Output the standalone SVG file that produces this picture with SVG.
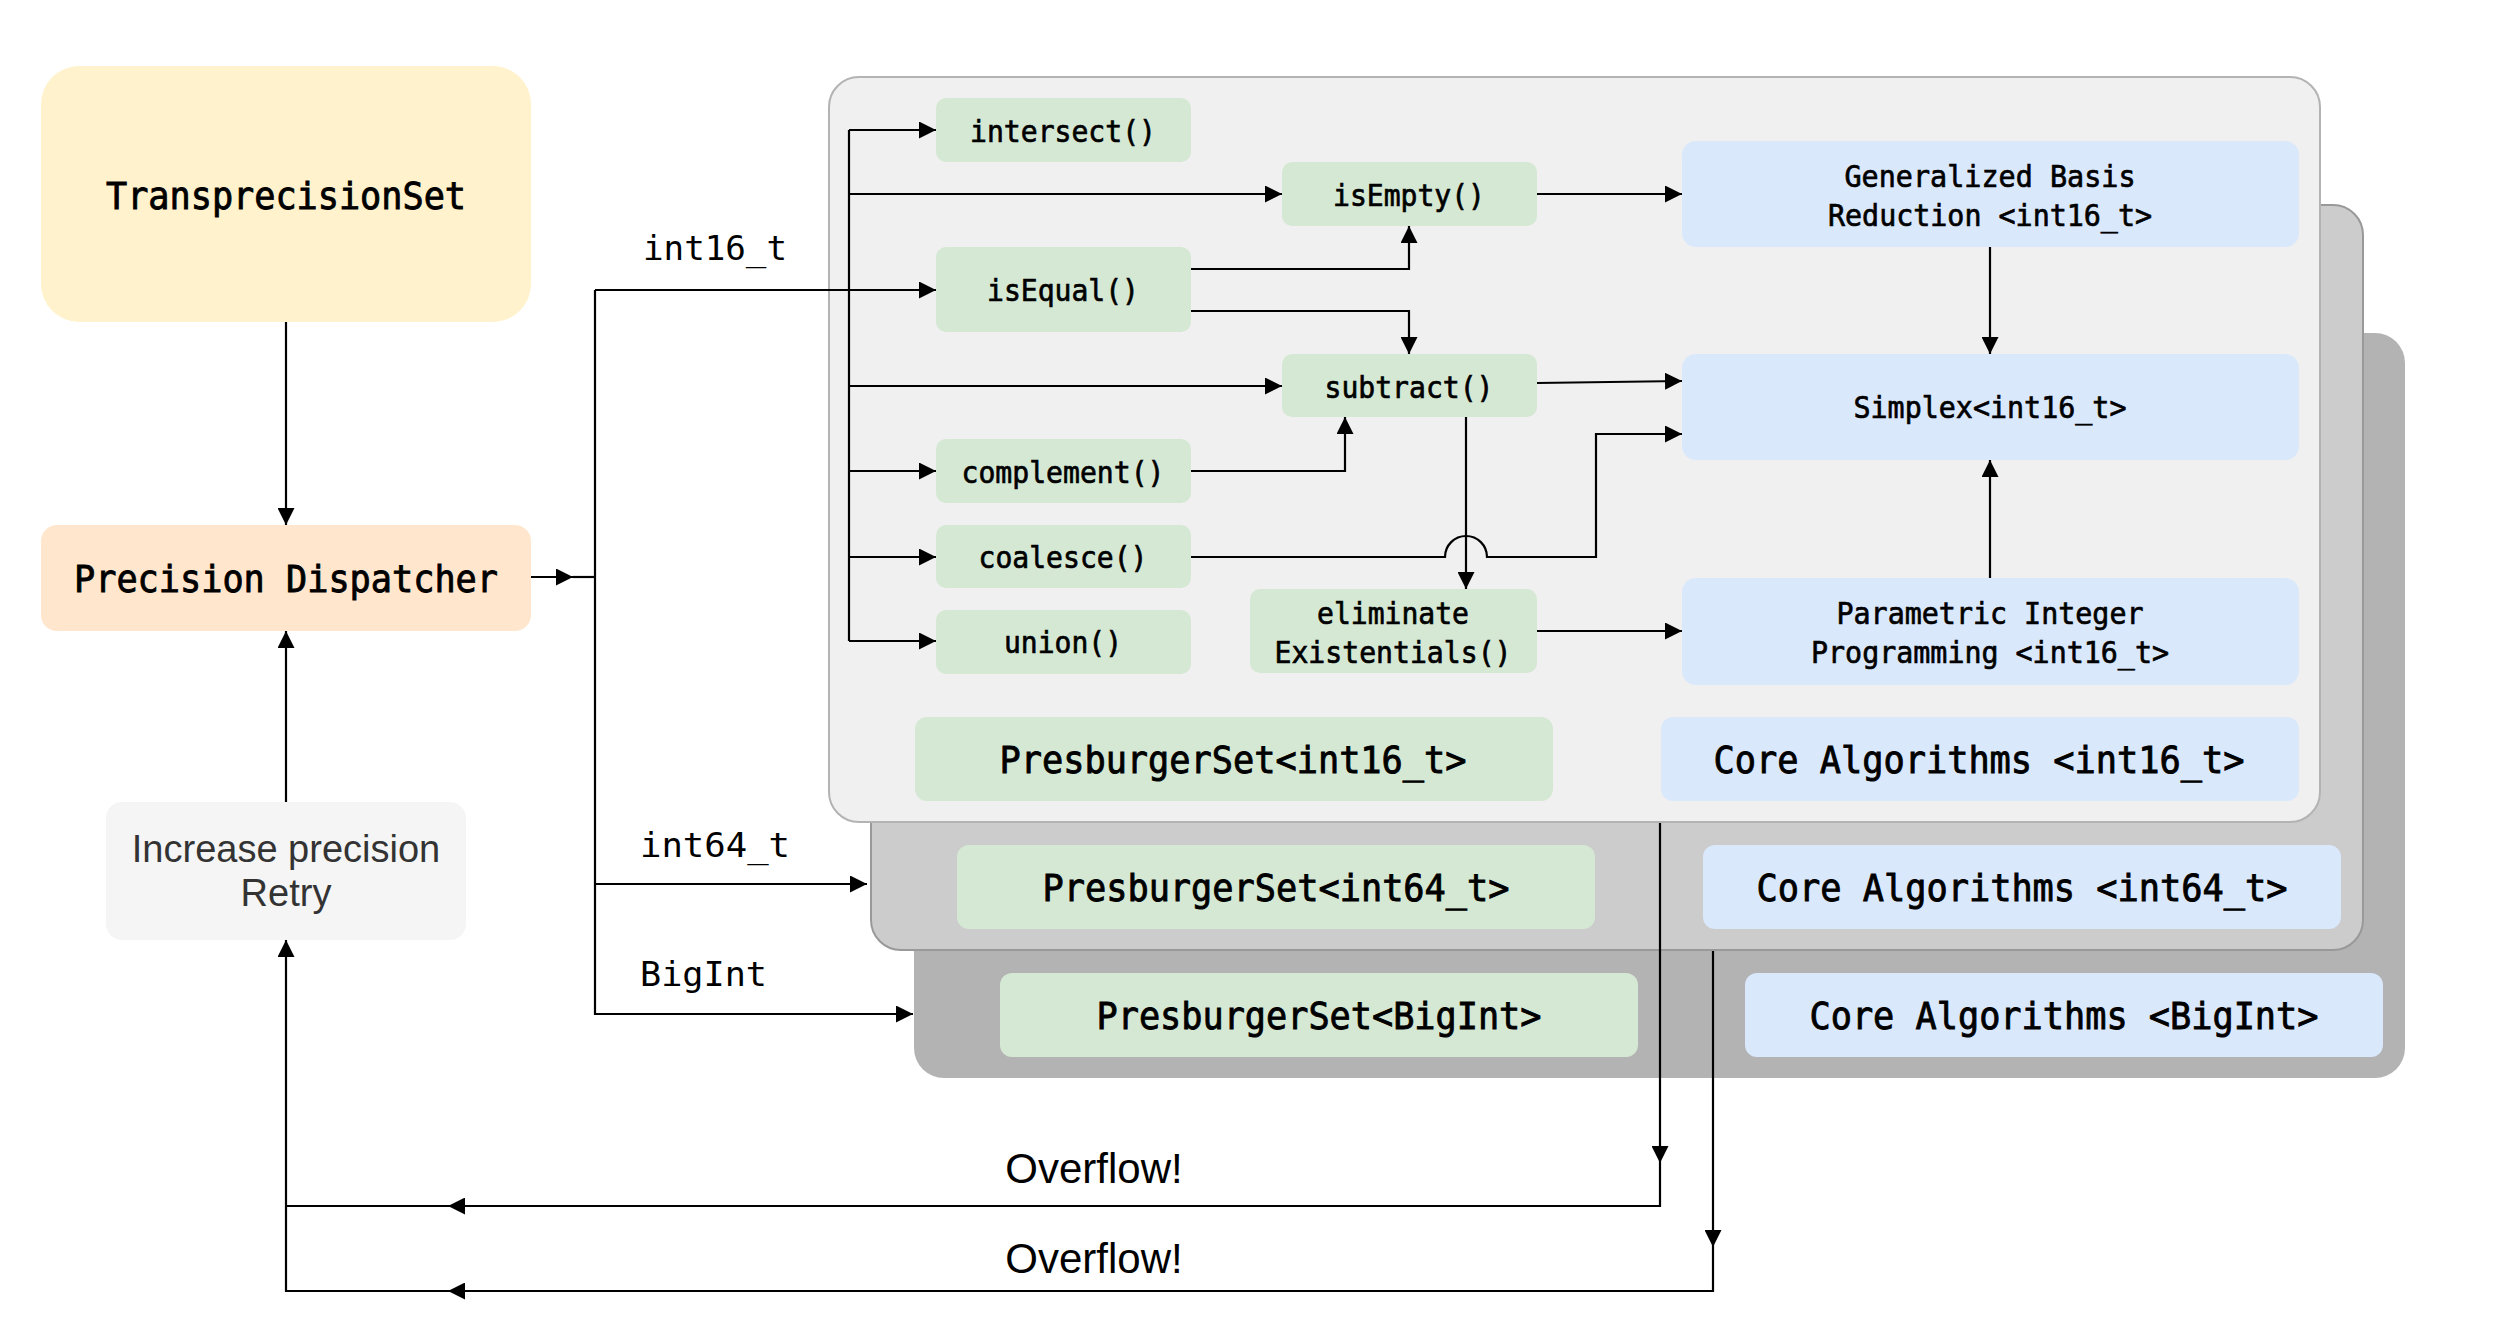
<svg xmlns="http://www.w3.org/2000/svg" width="2508" height="1338" viewBox="0 0 2508 1338">
<style>
.m{font-family:"DejaVu Sans Mono","Liberation Mono",monospace;fill:#000}
.big{font-size:38px;text-anchor:middle;stroke:#000;stroke-width:0.9}
.sm{font-size:31px;text-anchor:middle;stroke:#000;stroke-width:0.7}
.edge{font-size:34px}
.sans{font-family:"Liberation Sans",Arial,sans-serif;text-anchor:middle}
.ln{fill:none;stroke:#000;stroke-width:2.2}
.ar{marker-end:url(#a)}
.g{fill:#d5e8d4}
.b{fill:#dae8fc}
</style>
<defs>
<marker id="a" markerUnits="userSpaceOnUse" markerWidth="18" markerHeight="17" refX="17" refY="8.5" orient="auto" viewBox="0 0 18 17"><path d="M0,0 L17,8.5 L0,17 z" fill="#000"/></marker>
</defs>
<rect width="2508" height="1338" fill="#fff"/>

<g id="panel-bigint">
<rect x="914" y="333" width="1491" height="745" rx="30" fill="#b3b3b3"/>
</g>
<g id="panel-int64">
<rect x="871" y="205" width="1492" height="745" rx="30" fill="#cccccc" stroke="#999999" stroke-width="2"/>
</g>
<g id="panel-int16">
<rect x="829" y="77" width="1491" height="745" rx="30" fill="#f0f0f0" stroke="#b3b3b3" stroke-width="2"/>
</g>

<g id="transprecisionset">
<rect x="41" y="66" width="490" height="256" rx="38" fill="#fff2cc"/>
<text class="m big" x="286" y="209" textLength="360" lengthAdjust="spacingAndGlyphs">TransprecisionSet</text>
</g>
<g id="dispatcher">
<rect x="41" y="525" width="490" height="106" rx="16" fill="#ffe6cc"/>
<text class="m big" x="286" y="592" textLength="424" lengthAdjust="spacingAndGlyphs">Precision Dispatcher</text>
</g>
<g id="increase">
<rect x="106" y="802" width="360" height="138" rx="16" fill="#f5f5f5"/>
<text class="sans" x="286" y="862" font-size="38" fill="#333333">Increase precision</text>
<text class="sans" x="286" y="906" font-size="38" fill="#333333">Retry</text>
</g>

<g id="intersect"><rect class="g" x="936" y="98" width="255" height="64" rx="10"/><text class="m sm" x="1063" y="142" textLength="186" lengthAdjust="spacingAndGlyphs">intersect()</text></g>
<g id="isEmpty"><rect class="g" x="1282" y="162" width="255" height="64" rx="10"/><text class="m sm" x="1409" y="206" textLength="152" lengthAdjust="spacingAndGlyphs">isEmpty()</text></g>
<g id="isEqual"><rect class="g" x="936" y="247" width="255" height="85" rx="10"/><text class="m sm" x="1063" y="301" textLength="152" lengthAdjust="spacingAndGlyphs">isEqual()</text></g>
<g id="subtract"><rect class="g" x="1282" y="354" width="255" height="63" rx="10"/><text class="m sm" x="1409" y="398" textLength="169" lengthAdjust="spacingAndGlyphs">subtract()</text></g>
<g id="complement"><rect class="g" x="936" y="439" width="255" height="64" rx="10"/><text class="m sm" x="1063" y="483" textLength="203" lengthAdjust="spacingAndGlyphs">complement()</text></g>
<g id="coalesce"><rect class="g" x="936" y="525" width="255" height="63" rx="10"/><text class="m sm" x="1063" y="568" textLength="169" lengthAdjust="spacingAndGlyphs">coalesce()</text></g>
<g id="union"><rect class="g" x="936" y="610" width="255" height="64" rx="10"/><text class="m sm" x="1063" y="653" textLength="118" lengthAdjust="spacingAndGlyphs">union()</text></g>
<g id="eliminate"><rect class="g" x="1250" y="589" width="287" height="84" rx="10"/><text class="m sm" x="1393" y="624" textLength="152" lengthAdjust="spacingAndGlyphs">eliminate</text><text class="m sm" x="1393" y="663" textLength="237" lengthAdjust="spacingAndGlyphs">Existentials()</text></g>

<g id="gbr"><rect class="b" x="1682" y="141" width="617" height="106" rx="14"/><text class="m sm" x="1990" y="187" textLength="291" lengthAdjust="spacingAndGlyphs">Generalized Basis</text><text class="m sm" x="1990" y="226" textLength="324" lengthAdjust="spacingAndGlyphs">Reduction &lt;int16_t&gt;</text></g>
<g id="simplex"><rect class="b" x="1682" y="354" width="617" height="106" rx="14"/><text class="m sm" x="1990" y="418" textLength="273" lengthAdjust="spacingAndGlyphs">Simplex&lt;int16_t&gt;</text></g>
<g id="pip"><rect class="b" x="1682" y="578" width="617" height="107" rx="14"/><text class="m sm" x="1990" y="624" textLength="307" lengthAdjust="spacingAndGlyphs">Parametric Integer</text><text class="m sm" x="1990" y="663" textLength="358" lengthAdjust="spacingAndGlyphs">Programming &lt;int16_t&gt;</text></g>

<g id="ps16"><rect class="g" x="915" y="717" width="638" height="84" rx="12"/><text class="m big" x="1233" y="773" textLength="467" lengthAdjust="spacingAndGlyphs">PresburgerSet&lt;int16_t&gt;</text></g>
<g id="core16"><rect class="b" x="1661" y="717" width="638" height="84" rx="12"/><text class="m big" x="1979" y="773" textLength="531" lengthAdjust="spacingAndGlyphs">Core Algorithms &lt;int16_t&gt;</text></g>
<g id="ps64"><rect class="g" x="957" y="845" width="638" height="84" rx="12"/><text class="m big" x="1276" y="901" textLength="467" lengthAdjust="spacingAndGlyphs">PresburgerSet&lt;int64_t&gt;</text></g>
<g id="core64"><rect class="b" x="1703" y="845" width="638" height="84" rx="12"/><text class="m big" x="2022" y="901" textLength="531" lengthAdjust="spacingAndGlyphs">Core Algorithms &lt;int64_t&gt;</text></g>
<g id="psbig"><rect class="g" x="1000" y="973" width="638" height="84" rx="12"/><text class="m big" x="1319" y="1029" textLength="445" lengthAdjust="spacingAndGlyphs">PresburgerSet&lt;BigInt&gt;</text></g>
<g id="corebig"><rect class="b" x="1745" y="973" width="638" height="84" rx="12"/><text class="m big" x="2064" y="1029" textLength="509" lengthAdjust="spacingAndGlyphs">Core Algorithms &lt;BigInt&gt;</text></g>

<g id="connectors">
<path class="ln ar" d="M286,322 V525"/>
<path class="ln ar" d="M286,802 V631"/>
<path class="ln ar" d="M531,577 H573"/>
<path class="ln" d="M573,577 H595"/>
<path class="ln ar" d="M595,290 V1014 H913"/>
<path class="ln ar" d="M595,290 H936"/>
<path class="ln ar" d="M595,884 H867"/>
<path class="ln" d="M849,130 V641"/>
<path class="ln ar" d="M849,130 H936"/>
<path class="ln ar" d="M849,194 H1282"/>
<path class="ln ar" d="M849,386 H1282"/>
<path class="ln ar" d="M849,471 H936"/>
<path class="ln ar" d="M849,557 H936"/>
<path class="ln ar" d="M849,641 H936"/>
<path class="ln ar" d="M1191,269 H1409 V226"/>
<path class="ln ar" d="M1191,311 H1409 V354"/>
<path class="ln ar" d="M1191,471 H1345 V417"/>
<path class="ln ar" d="M1466,417 V589"/>
<path class="ln ar" d="M1191,557 H1445 A21,21 0 0 1 1487,557 H1596 V434 H1682"/>
<path class="ln ar" d="M1537,194 H1682"/>
<path class="ln ar" d="M1537,383 L1682,381"/>
<path class="ln ar" d="M1537,631 H1682"/>
<path class="ln ar" d="M1990,247 V354"/>
<path class="ln ar" d="M1990,578 V460"/>
<path class="ln ar" d="M1660,823 V1163"/>
<path class="ln ar" d="M1660,1163 V1206 H448"/>
<path class="ln" d="M448,1206 H286"/>
<path class="ln ar" d="M1713,951 V1247"/>
<path class="ln ar" d="M1713,1247 V1291 H448"/>
<path class="ln ar" d="M448,1291 H286 V940"/>
<text class="m edge" x="643" y="260" textLength="144" lengthAdjust="spacingAndGlyphs">int16_t</text>
<text class="m edge" x="640" y="857" textLength="150" lengthAdjust="spacingAndGlyphs">int64_t</text>
<text class="m edge" x="640" y="986" textLength="127" lengthAdjust="spacingAndGlyphs">BigInt</text>
<text class="sans" x="1094" y="1183" font-size="42">Overflow!</text>
<text class="sans" x="1094" y="1273" font-size="42">Overflow!</text>
</g>
</svg>
